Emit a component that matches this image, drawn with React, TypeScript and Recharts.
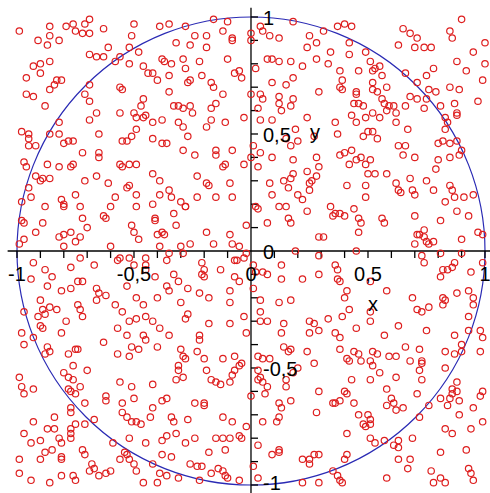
import {
  ReferenceArea,
  ReferenceDot,
  ReferenceLine,
  Scatter,
  ScatterChart,
  XAxis,
  YAxis,
} from "recharts";

type Pt = [number, number];

// sample points, grouped by region of the square
const pointsTopLeft: Pt[] = [
  [-0.99, 0.94], [-0.86, 0.96], [-0.86, 0.92], [-0.91, 0.9], [-0.87, 0.88], [-0.82, 0.9], [-0.79, 0.96],
  [-0.76, 0.97], [-0.75, 0.94], [-0.72, 0.93], [-0.69, 0.93], [-0.71, 0.97], [-0.69, 0.99], [-0.63, 0.95],
  [-0.5, 0.97], [-0.39, 0.96], [-0.51, 0.92], [-0.52, 0.87], [-0.61, 0.87], [-0.69, 0.84], [-0.66, 0.83],
  [-0.63, 0.83], [-0.58, 0.81], [-0.56, 0.83], [-0.52, 0.8], [-0.48, 0.85], [-0.38, 0.82], [-0.93, 0.79],
  [-0.9, 0.8], [-0.86, 0.81], [-0.9, 0.76], [-0.96, 0.74], [-0.83, 0.73], [-0.81, 0.73], [-0.84, 0.71],
  [-0.86, 0.69], [-0.96, 0.67], [-0.93, 0.66], [-0.88, 0.62], [-0.69, 0.71], [-0.56, 0.7], [-0.55, 0.69],
  [-0.71, 0.67], [-0.69, 0.64], [-0.66, 0.59], [-0.69, 0.56], [-0.56, 0.59], [-0.46, 0.79], [-0.44, 0.76],
  [-0.42, 0.76], [-0.4, 0.73], [-0.46, 0.65], [-0.47, 0.62], [-0.5, 0.59], [-0.49, 0.57], [-0.46, 0.57],
  [-0.45, 0.58], [-0.42, 0.55], [-0.49, 0.52], [-0.51, 0.49], [-0.53, 0.47], [-0.55, 0.47], [-0.65, 0.5],
  [-0.82, 0.5], [-0.8, 0.46], [-0.78, 0.47], [-0.76, 0.47], [-0.72, 0.42], [-0.65, 0.42], [-0.65, 0.4],
  [-0.98, 0.51], [-0.95, 0.5], [-0.95, 0.48], [-0.95, 0.45], [-0.92, 0.45], [-0.42, 0.48], [-0.38, 0.46],
  [-0.82, 0.55], [-0.86, 0.5], [-0.97, 0.38], [-0.87, 0.37], [-0.56, 0.37], [-0.52, 0.37], [-0.49, 0.37],
  [-0.38, 0.56],
];

const pointsTopMid: Pt[] = [
  [-0.35, 0.97], [-0.28, 0.96], [-0.16, 0.99], [-0.1, 0.98], [0.04, 0.96], [0.05, 0.94], [0.18, 0.98],
  [0.31, 0.94], [-0.24, 0.92], [-0.19, 0.92], [-0.12, 0.94], [-0.08, 0.91], [-0.08, 0.9], [0.0, 0.93],
  [0.0, 0.9], [0.08, 0.92], [0.12, 0.91], [-0.32, 0.89], [-0.26, 0.88], [-0.19, 0.87], [0.25, 0.92],
  [0.24, 0.87], [0.28, 0.89], [-0.37, 0.81], [-0.34, 0.8], [-0.29, 0.82], [-0.28, 0.78], [-0.22, 0.81],
  [-0.1, 0.82], [0.07, 0.82], [0.09, 0.82], [0.12, 0.81], [0.17, 0.81], [0.22, 0.79], [0.28, 0.82],
  [-0.35, 0.75], [-0.26, 0.73], [-0.27, 0.72], [-0.21, 0.75], [-0.07, 0.76], [-0.05, 0.77], [-0.04, 0.74],
  [0.02, 0.78], [-0.17, 0.72], [-0.16, 0.7], [-0.12, 0.67], [-0.35, 0.68], [0.09, 0.72], [0.15, 0.71],
  [0.18, 0.74], [0.29, 0.68], [0.0, 0.67], [0.04, 0.67], [0.05, 0.65], [0.12, 0.66], [0.12, 0.63],
  [0.18, 0.65], [-0.33, 0.62], [-0.31, 0.62], [-0.29, 0.61], [-0.26, 0.62], [-0.25, 0.59], [-0.15, 0.63],
  [-0.17, 0.61], [0.03, 0.61], [0.17, 0.62], [0.09, 0.56], [0.13, 0.6], [0.24, 0.57], [-0.31, 0.55],
  [-0.29, 0.53], [-0.19, 0.53], [-0.17, 0.56], [-0.11, 0.55], [-0.03, 0.57], [0.04, 0.56], [-0.36, 0.46],
  [-0.29, 0.43], [-0.24, 0.41], [-0.15, 0.43], [-0.15, 0.41], [-0.08, 0.43], [0.01, 0.45], [0.04, 0.42],
  [0.09, 0.4], [0.15, 0.48], [0.17, 0.45], [0.19, 0.52], [0.2, 0.47], [0.27, 0.49], [0.28, 0.4],
  [-0.27, 0.49], [0.18, 0.39], [0.0, 0.4],
];

const pointsTopRight: Pt[] = [
  [0.37, 0.96], [0.4, 0.97], [0.43, 0.96], [0.42, 0.89], [0.34, 0.85], [0.33, 0.8], [0.42, 0.84],
  [0.49, 0.85], [0.51, 0.81], [0.46, 0.77], [0.38, 0.77], [0.39, 0.73], [0.38, 0.7], [0.39, 0.69],
  [0.45, 0.68], [0.45, 0.67], [0.52, 0.77], [0.53, 0.78], [0.55, 0.79], [0.56, 0.75], [0.52, 0.72],
  [0.58, 0.7], [0.52, 0.69], [0.54, 0.68], [0.56, 0.65], [0.57, 0.63], [0.59, 0.62], [0.61, 0.62],
  [0.58, 0.6], [0.62, 0.59], [0.66, 0.62], [0.44, 0.63], [0.46, 0.63], [0.48, 0.62], [0.52, 0.59],
  [0.49, 0.57], [0.55, 0.57], [0.43, 0.58], [0.36, 0.55], [0.45, 0.55], [0.37, 0.5], [0.48, 0.49],
  [0.5, 0.51], [0.52, 0.51], [0.54, 0.48], [0.62, 0.55], [0.67, 0.52], [0.38, 0.41], [0.4, 0.42],
  [0.43, 0.43], [0.45, 0.39], [0.47, 0.4], [0.51, 0.39], [0.63, 0.45], [0.66, 0.45], [0.65, 0.41],
  [0.7, 0.4], [0.65, 0.95], [0.68, 0.93], [0.71, 0.91], [0.63, 0.88], [0.7, 0.87], [0.74, 0.87],
  [0.77, 0.87], [0.85, 0.94], [0.86, 0.91], [0.9, 0.99], [1.0, 0.89], [0.95, 0.85], [0.88, 0.81],
  [0.92, 0.77], [1.0, 0.8], [0.99, 0.73], [0.97, 0.64], [0.78, 0.78], [0.75, 0.75], [0.66, 0.76],
  [0.71, 0.72], [0.76, 0.69], [0.79, 0.68], [0.85, 0.7], [0.89, 0.69], [0.68, 0.66], [0.71, 0.65],
  [0.75, 0.65], [0.74, 0.61], [0.81, 0.62], [0.87, 0.63], [0.88, 0.59], [0.83, 0.57], [0.88, 0.58],
  [0.84, 0.55], [0.83, 0.52], [0.82, 0.47], [0.8, 0.46], [0.85, 0.46], [0.88, 0.47], [0.85, 0.4],
  [0.89, 0.41], [0.9, 0.43], [0.8, 0.39],
];

const pointsMidLeft: Pt[] = [
  [-0.96, 0.36], [-0.82, 0.36], [-0.77, 0.36], [-0.76, 0.37], [-0.55, 0.36], [-0.92, 0.32], [-0.9, 0.3],
  [-0.89, 0.31], [-0.86, 0.31], [-0.95, 0.27], [-0.94, 0.23], [-0.98, 0.21], [-0.98, 0.13], [-0.97, 0.12],
  [-0.97, 0.05], [-0.99, 0.03], [-0.92, 0.08], [-0.89, 0.12], [-0.88, 0.19], [-0.81, 0.22], [-0.8, 0.2],
  [-0.8, 0.19], [-0.75, 0.24], [-0.73, 0.19], [-0.72, 0.14], [-0.71, 0.3], [-0.66, 0.32], [-0.61, 0.29],
  [-0.58, 0.23], [-0.6, 0.19], [-0.63, 0.15], [-0.62, 0.14], [-0.49, 0.24], [-0.53, 0.27], [-0.52, 0.28],
  [-0.49, 0.19], [-0.42, 0.2], [-0.41, 0.14], [-0.41, 0.13], [-0.39, 0.24], [-0.42, 0.33], [-0.39, 0.3],
  [-0.51, 0.11], [-0.5, 0.08], [-0.48, 0.05], [-0.4, 0.07], [-0.38, 0.08], [-0.7, 0.1], [-0.77, 0.08],
  [-0.8, 0.07], [-0.82, 0.06], [-0.73, 0.06], [-0.75, 0.04], [-0.8, 0.02], [-0.6, 0.02], [-0.39, 0.02],
  [-0.56, -0.03], [-0.57, -0.04], [-0.52, -0.03], [-0.45, -0.03], [-0.45, -0.06], [-0.45, -0.08],
  [-0.41, -0.11], [-0.5, -0.06], [-0.53, -0.15], [-0.67, -0.06], [-0.77, -0.07], [-0.73, -0.03],
  [-0.93, -0.05], [-0.94, -0.12], [-0.88, -0.08], [-0.85, -0.11], [-0.87, -0.15], [-0.81, -0.17],
  [-0.77, -0.16], [-0.74, -0.13], [-0.72, -0.13], [-0.66, -0.16], [-0.65, -0.18], [-0.62, -0.19],
  [-0.58, -0.23], [-0.66, -0.21], [-0.9, -0.21], [-0.89, -0.25], [-0.91, -0.28], [-0.88, -0.27],
  [-0.86, -0.24], [-0.83, -0.25], [-0.97, -0.26], [-0.9, -0.32], [-0.79, -0.3], [-0.74, -0.23],
  [-0.73, -0.25], [-0.72, -0.28], [-0.52, -0.3], [-0.49, -0.29], [-0.46, -0.23], [-0.45, -0.28],
  [-0.42, -0.3], [-0.49, -0.2], [-0.4, -0.2], [-0.55, -0.26], [-0.39, -0.33], [-0.57, -0.33],
];

const pointsCenter: Pt[] = [
  [-0.12, 0.36], [-0.11, 0.37], [-0.03, 0.37], [0.03, 0.36], [-0.23, 0.32], [-0.19, 0.29], [-0.18, 0.28],
  [-0.09, 0.29], [-0.15, 0.23], [-0.08, 0.23], [-0.23, 0.23], [-0.35, 0.26], [-0.34, 0.23], [-0.3, 0.21],
  [-0.28, 0.19], [-0.28, 0.19], [-0.33, 0.16], [-0.32, 0.11], [-0.37, 0.07], [-0.19, 0.08], [-0.09, 0.07],
  [-0.08, 0.03], [-0.05, 0.02], [-0.02, 0.11], [0.02, 0.19], [0.03, 0.18], [0.08, 0.29], [0.09, 0.24],
  [0.16, 0.27], [0.17, 0.31], [0.14, 0.3], [0.18, 0.33], [0.24, 0.34], [0.26, 0.3], [0.29, 0.36],
  [0.28, 0.32], [0.25, 0.29], [0.25, 0.26], [0.2, 0.24], [0.22, 0.22], [0.12, 0.19], [0.15, 0.19],
  [0.16, 0.14], [0.17, 0.12], [0.24, 0.17], [0.07, 0.12], [0.29, 0.06], [0.31, 0.06], [-0.3, 0.02],
  [-0.26, 0.03], [-0.16, 0.03], [-0.35, -0.01], [-0.36, -0.04], [-0.29, -0.01], [-0.02, -0.01],
  [-0.03, -0.03], [-0.06, -0.04], [-0.07, -0.04], [0.19, 0.0], [0.29, -0.02], [-0.21, -0.05],
  [-0.2, -0.08], [-0.21, -0.1], [-0.2, -0.11], [-0.33, -0.1], [-0.31, -0.13], [-0.36, -0.15],
  [-0.35, -0.17], [-0.27, -0.16], [-0.22, -0.18], [-0.13, -0.08], [-0.07, -0.11], [-0.05, -0.13],
  [0.01, -0.06], [0.02, -0.09], [0.05, -0.09], [0.07, -0.1], [0.13, -0.06], [0.13, -0.12], [0.22, -0.12],
  [0.29, -0.1], [0.01, -0.16], [-0.09, -0.17], [-0.18, -0.2], [-0.09, -0.22], [0.04, -0.21], [0.12, -0.22],
  [0.17, -0.21], [-0.3, -0.22], [-0.27, -0.27], [-0.28, -0.29], [-0.18, -0.31], [-0.09, -0.31],
  [-0.03, -0.28], [0.04, -0.26], [0.04, -0.3], [0.07, -0.3], [0.14, -0.31], [0.25, -0.3], [0.27, -0.31],
];

const pointsMidRight: Pt[] = [
  [0.42, 0.37], [0.49, 0.37], [0.53, 0.33], [0.58, 0.33], [0.5, 0.33], [0.41, 0.28], [0.49, 0.28],
  [0.49, 0.23], [0.62, 0.29], [0.63, 0.26], [0.64, 0.25], [0.68, 0.31], [0.69, 0.26], [0.7, 0.24],
  [0.75, 0.3], [0.79, 0.35], [0.78, 0.26], [0.85, 0.28], [0.86, 0.26], [0.87, 0.23], [0.83, 0.21],
  [0.91, 0.23], [0.95, 0.24], [0.34, 0.19], [0.35, 0.15], [0.36, 0.16], [0.38, 0.16], [0.4, 0.15],
  [0.44, 0.18], [0.46, 0.14], [0.47, 0.12], [0.46, 0.08], [0.56, 0.14], [0.57, 0.12], [0.7, 0.15],
  [0.81, 0.13], [0.88, 0.17], [0.93, 0.15], [0.9, 0.05], [0.97, 0.08], [0.99, 0.07], [0.71, 0.07],
  [0.72, 0.07], [0.74, 0.09], [0.74, 0.06], [0.75, 0.04], [0.76, 0.03], [0.78, 0.04], [0.7, 0.03],
  [0.45, 0.0], [0.73, -0.02], [0.74, -0.05], [0.81, -0.01], [0.87, -0.05], [0.9, -0.01], [0.84, -0.08],
  [0.82, -0.08], [0.86, -0.07], [0.81, -0.11], [0.94, -0.09], [0.99, -0.05], [0.36, -0.06], [0.37, -0.08],
  [0.37, -0.12], [0.38, -0.13], [0.51, -0.13], [0.58, -0.17], [0.41, -0.17], [0.4, -0.2], [0.42, -0.25],
  [0.39, -0.28], [0.33, -0.29], [0.51, -0.26], [0.51, -0.3], [0.69, -0.2], [0.76, -0.24], [0.73, -0.26],
  [0.71, -0.25], [0.82, -0.2], [0.83, -0.21], [0.82, -0.23], [0.88, -0.18], [0.93, -0.17], [0.95, -0.2],
  [0.95, -0.23], [0.93, -0.28], [0.63, -0.32], [0.45, -0.33],
];

const pointsBottomLeft: Pt[] = [
  [-0.98, -0.35], [-0.97, -0.4], [-0.93, -0.37], [-0.89, -0.33], [-0.81, -0.35], [-0.87, -0.41],
  [-0.86, -0.43], [-0.88, -0.44], [-0.78, -0.44], [-0.75, -0.42], [-0.74, -0.42], [-0.76, -0.49],
  [-0.7, -0.51], [-0.63, -0.39], [-0.57, -0.44], [-0.53, -0.36], [-0.51, -0.41], [-0.48, -0.42],
  [-0.46, -0.36], [-0.45, -0.38], [-0.4, -0.41], [-0.52, -0.45], [-0.99, -0.54], [-0.98, -0.58],
  [-0.97, -0.61], [-0.93, -0.59], [-0.8, -0.52], [-0.78, -0.54], [-0.76, -0.55], [-0.73, -0.58],
  [-0.78, -0.59], [-0.77, -0.6], [-0.75, -0.61], [-0.77, -0.67], [-0.77, -0.69], [-0.71, -0.65],
  [-0.62, -0.62], [-0.62, -0.64], [-0.56, -0.56], [-0.51, -0.58], [-0.5, -0.63], [-0.55, -0.65],
  [-0.42, -0.57], [-0.42, -0.67], [-0.43, -0.71], [-0.38, -0.64], [-0.55, -0.69], [-0.53, -0.71],
  [-0.51, -0.73], [-0.49, -0.73], [-0.47, -0.74], [-0.67, -0.72], [-0.75, -0.74], [-0.71, -0.74],
  [-0.93, -0.73], [-0.84, -0.71], [-0.84, -0.76], [-0.87, -0.76], [-0.77, -0.76], [-0.77, -0.78],
  [-0.97, -0.78], [-0.94, -0.82], [-0.9, -0.81], [-0.82, -0.8], [-0.81, -0.82], [-0.77, -0.8],
  [-0.81, -0.88], [-0.81, -0.89], [-0.88, -0.86], [-0.85, -0.85], [-0.99, -0.89], [-0.9, -0.89],
  [-0.72, -0.85], [-0.71, -0.87], [-0.59, -0.82], [-0.52, -0.8], [-0.45, -0.82], [-0.54, -0.86],
  [-0.53, -0.87], [-0.56, -0.89], [-0.52, -0.89], [-0.5, -0.91], [-0.49, -0.94], [-0.68, -0.91],
  [-0.67, -0.93], [-0.69, -0.94], [-0.65, -0.96], [-0.62, -0.95], [-0.6, -0.94], [-0.99, -0.95],
  [-0.94, -0.98], [-0.86, -0.99], [-0.81, -0.96], [-0.76, -0.96], [-0.75, -0.98], [-0.46, -0.99],
  [-0.4, -0.99], [-0.39, -0.95], [-0.42, -0.91], [-0.38, -0.81], [-0.38, -0.87],
];

const pointsBottomMid: Pt[] = [
  [-0.35, -0.36], [-0.22, -0.36], [-0.22, -0.38], [-0.02, -0.35], [0.13, -0.35], [0.25, -0.35],
  [0.29, -0.34], [-0.3, -0.42], [-0.29, -0.45], [-0.28, -0.46], [-0.23, -0.43], [-0.2, -0.46],
  [-0.12, -0.46], [-0.07, -0.45], [-0.04, -0.48], [-0.05, -0.49], [-0.07, -0.51], [-0.08, -0.53],
  [-0.31, -0.49], [-0.31, -0.51], [-0.32, -0.55], [-0.29, -0.54], [-0.19, -0.51], [-0.17, -0.55],
  [-0.15, -0.56], [-0.13, -0.57], [-0.09, -0.56], [0.03, -0.45], [0.05, -0.46], [0.08, -0.46],
  [0.14, -0.41], [0.16, -0.43], [0.17, -0.42], [0.24, -0.43], [0.27, -0.48], [0.2, -0.5], [0.18, -0.52],
  [0.15, -0.55], [0.15, -0.58], [0.03, -0.51], [0.04, -0.54], [0.03, -0.55], [0.05, -0.56], [0.07, -0.58],
  [0.06, -0.61], [0.0, -0.62], [-0.36, -0.63], [-0.24, -0.65], [-0.2, -0.65], [-0.2, -0.66], [0.12, -0.65],
  [0.13, -0.67], [0.17, -0.64], [0.29, -0.6], [0.28, -0.69], [-0.34, -0.71], [-0.33, -0.73], [-0.27, -0.72],
  [-0.12, -0.71], [-0.08, -0.73], [0.12, -0.71], [0.11, -0.73], [0.05, -0.73], [-0.02, -0.75],
  [-0.04, -0.8], [-0.36, -0.79], [-0.32, -0.78], [-0.28, -0.82], [-0.24, -0.8], [-0.15, -0.8],
  [-0.12, -0.8], [-0.09, -0.8], [-0.11, -0.85], [-0.05, -0.79], [0.03, -0.83], [0.09, -0.87],
  [0.12, -0.86], [0.12, -0.85], [0.22, -0.89], [0.25, -0.89], [0.27, -0.87], [0.29, -0.87], [0.25, -0.91],
  [-0.18, -0.86], [-0.34, -0.88], [-0.26, -0.91], [-0.23, -0.92], [-0.21, -0.92], [-0.31, -0.97],
  [-0.22, -0.98], [-0.17, -0.95], [-0.14, -0.93], [-0.12, -0.94], [-0.11, -0.96], [-0.1, -0.97],
  [-0.05, -0.98], [0.01, -0.92], [0.03, -0.97], [-0.36, -0.96], [0.29, -0.99], [0.22, -0.99],
];

const pointsBottomRight: Pt[] = [
  [0.36, -0.35], [0.38, -0.37], [0.57, -0.36], [0.75, -0.34], [0.87, -0.36], [0.93, -0.34], [0.98, -0.34],
  [0.99, -0.37], [0.38, -0.42], [0.44, -0.43], [0.46, -0.44], [0.41, -0.46], [0.42, -0.47], [0.47, -0.47],
  [0.52, -0.43], [0.54, -0.44], [0.51, -0.47], [0.52, -0.49], [0.59, -0.45], [0.62, -0.45], [0.66, -0.41],
  [0.72, -0.42], [0.73, -0.47], [0.73, -0.48], [0.72, -0.51], [0.73, -0.55], [0.68, -0.47], [0.55, -0.52],
  [0.62, -0.54], [0.51, -0.55], [0.43, -0.55], [0.83, -0.43], [0.87, -0.44], [0.9, -0.43], [0.9, -0.4],
  [0.98, -0.43], [0.83, -0.5], [0.88, -0.56], [0.86, -0.59], [0.88, -0.6], [0.86, -0.61], [0.99, -0.6],
  [0.98, -0.62], [0.95, -0.67], [0.89, -0.64], [0.85, -0.63], [0.81, -0.63], [0.84, -0.66], [0.89, -0.7],
  [0.71, -0.61], [0.58, -0.59], [0.4, -0.6], [0.41, -0.61], [0.38, -0.64], [0.36, -0.65], [0.35, -0.65],
  [0.44, -0.65], [0.46, -0.7], [0.5, -0.7], [0.51, -0.72], [0.48, -0.74], [0.49, -0.75], [0.51, -0.74],
  [0.58, -0.66], [0.6, -0.63], [0.61, -0.65], [0.62, -0.68], [0.65, -0.67], [0.41, -0.78], [0.51, -0.8],
  [0.53, -0.82], [0.57, -0.81], [0.63, -0.81], [0.61, -0.83], [0.63, -0.84], [0.69, -0.8], [0.76, -0.66],
  [0.72, -0.71], [0.83, -0.76], [0.86, -0.78], [0.94, -0.76], [0.99, -0.73], [0.81, -0.86], [0.92, -0.85],
  [0.41, -0.87], [0.4, -0.89], [0.63, -0.89], [0.68, -0.89], [0.67, -0.93], [0.35, -0.94], [0.37, -0.96],
  [0.38, -0.98], [0.39, -0.99], [0.58, -0.97], [0.77, -0.94], [0.78, -0.99], [0.81, -0.97], [0.83, -0.99],
  [0.93, -0.93], [0.94, -0.95], [0.95, -0.98],
];

const allPoints = [
  ...pointsTopLeft,
  ...pointsTopMid,
  ...pointsTopRight,
  ...pointsMidLeft,
  ...pointsCenter,
  ...pointsMidRight,
  ...pointsBottomLeft,
  ...pointsBottomMid,
  ...pointsBottomRight,
].map(([x, y]) => ({ x, y }));

const tickValues = [
  -1, -0.9, -0.8, -0.7, -0.6, -0.5, -0.4, -0.3, -0.2, -0.1,
  0.1, 0.2, 0.3, 0.4, 0.5, 0.6, 0.7, 0.8, 0.9, 1,
];
const labelValues = [-1, -0.5, 0, 0.5, 1];

const FONT = "'Liberation Sans', Arial, sans-serif";
const TICK_LEN = 0.03;

const fmt = (v: number) => String(v).replace(".", ",");

const UnitCircle = (p: any) => (
  <ellipse
    cx={p.x + p.width / 2}
    cy={p.y + p.height / 2}
    rx={p.width / 2}
    ry={p.height / 2}
    fill="none"
    stroke="#2a2ab4"
    strokeWidth={1.2}
  />
);

const Marker = (p: any) => (
  <circle cx={p.cx} cy={p.cy} r={3.2} fill="none" stroke="#de1f1f" strokeWidth={1.2} />
);

export default function App() {
  return (
    <div style={{ position: "absolute", left: 0, top: 0, width: 490, height: 493, background: "#fff" }}>
      <ScatterChart width={490} height={493} margin={{ top: 0, right: 0, bottom: 0, left: 0 }}>
        <XAxis type="number" dataKey="x" domain={[-1.0726, 1.0214]} hide allowDataOverflow />
        <YAxis type="number" dataKey="y" domain={[-1.0342, 1.0726]} hide allowDataOverflow />

        <ReferenceArea x1={-1} x2={1} y1={-1} y2={1} shape={UnitCircle} />

        <ReferenceLine segment={[{ x: -1.04, y: 0 }, { x: 1.0214, y: 0 }]} stroke="#000" strokeWidth={1.3} />
        <ReferenceLine segment={[{ x: 0, y: -1.0342 }, { x: 0, y: 1.04 }]} stroke="#000" strokeWidth={1.3} />
        {tickValues.map((t) => (
          <ReferenceLine key={"tx" + t} segment={[{ x: t, y: 0 }, { x: t, y: -TICK_LEN }]} stroke="#000" strokeWidth={1.3} />
        ))}
        {tickValues.map((t) => (
          <ReferenceLine key={"ty" + t} segment={[{ x: 0, y: t }, { x: TICK_LEN, y: t }]} stroke="#000" strokeWidth={1.3} />
        ))}

        <Scatter data={allPoints} shape={Marker} isAnimationActive={false} />

        {labelValues.map((v) => (
          <ReferenceDot
            key={"lx" + v}
            x={v}
            y={0}
            shape={(p: any) => (
              <text x={p.cx} y={p.cy + 30} textAnchor="middle" fontFamily={FONT} fontSize={20} fill="#000">
                {fmt(v)}
              </text>
            )}
          />
        ))}
        {labelValues.map((v) => (
          <ReferenceDot
            key={"ly" + v}
            x={0}
            y={v}
            shape={(p: any) => (
              <text
                x={p.cx + 12}
                y={p.cy + (v === -1 ? 5 : 8)}
                textAnchor="start"
                fontFamily={FONT}
                fontSize={20}
                fill="#000"
              >
                {fmt(v)}
              </text>
            )}
          />
        ))}
        <ReferenceDot
          x={0.5}
          y={0}
          shape={(p: any) => (
            <text x={p.cx + 5} y={p.cy + 60} textAnchor="middle" fontFamily={FONT} fontSize={20} fill="#000">
              x
            </text>
          )}
        />
        <ReferenceDot
          x={0}
          y={0.5}
          shape={(p: any) => (
            <text x={p.cx + 59} y={p.cy + 5} textAnchor="start" fontFamily={FONT} fontSize={20} fill="#000">
              y
            </text>
          )}
        />
      </ScatterChart>
    </div>
  );
}
